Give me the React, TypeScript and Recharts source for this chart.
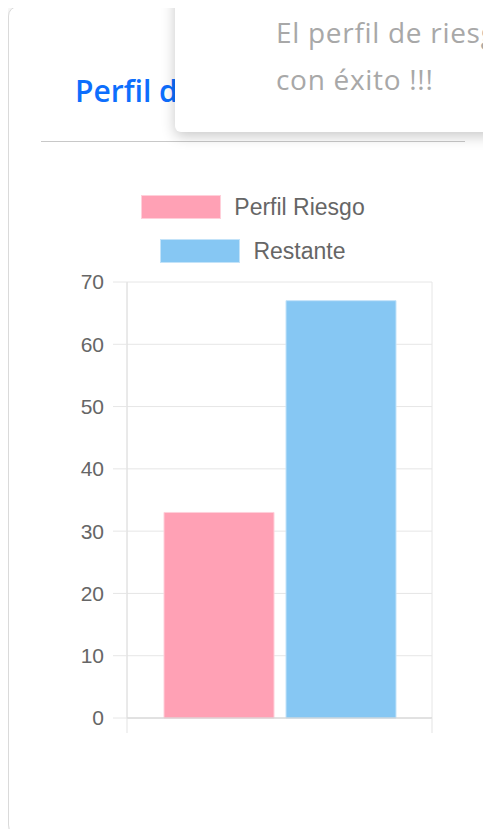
import { BarChart, Bar, XAxis, YAxis, CartesianGrid, Legend } from "recharts";

const categories = [""];
const perfilRiesgo = [33];
const restante = [67];
const yTicks = [0, 10, 20, 30, 40, 50, 60, 70];

const seriesNames = { riesgo: "Perfil Riesgo", restante: "Restante" };

const PINK = "#ffa1b5";
const PINK_BORDER = "#ffd0da";
const BLUE = "#86c7f3";
const BLUE_BORDER = "#c3e3f9";

const CHART_W = 360;
const CHART_H = 558;
const Y_AXIS_W = 53;
const MARGIN = { top: 0, right: 2, left: 0, bottom: 4 };
const PLOT_W = CHART_W - Y_AXIS_W - MARGIN.left - MARGIN.right;

const chartData = categories.map((name, i) => ({
  name,
  riesgo: perfilRiesgo[i],
  restante: restante[i],
}));

const legendItems = [
  { label: seriesNames.riesgo, fill: PINK, border: PINK_BORDER },
  { label: seriesNames.restante, fill: BLUE, border: BLUE_BORDER },
];

function StackedLegend() {
  return (
    <div style={{ height: 102, paddingTop: 15, boxSizing: "border-box" }}>
      {legendItems.map((it) => (
        <div
          key={it.label}
          style={{
            display: "flex",
            justifyContent: "center",
            alignItems: "center",
            height: 24,
            marginBottom: 20,
          }}
        >
          <span
            style={{
              display: "inline-block",
              width: 80,
              height: 24,
              boxSizing: "border-box",
              background: it.fill,
              border: `1px solid ${it.border}`,
              marginRight: 13,
            }}
          />
          <span
            style={{
              fontSize: 23,
              lineHeight: "24px",
              color: "#666",
              fontFamily: "'Liberation Sans', Arial, sans-serif",
            }}
          >
            {it.label}
          </span>
        </div>
      ))}
    </div>
  );
}

// short grid extensions below the x axis at the category edges
function EdgeTick(props: any) {
  const { x, y } = props;
  return (
    <g stroke="#e3e3e3" strokeWidth={1}>
      <line x1={x - PLOT_W / 2} x2={x - PLOT_W / 2} y1={y} y2={y + 15} />
      <line x1={x + PLOT_W / 2} x2={x + PLOT_W / 2} y1={y} y2={y + 15} />
    </g>
  );
}

export default function App() {
  return (
    <div
      style={{
        position: "relative",
        width: 491,
        height: 837,
        margin: -8,
        overflow: "hidden",
        background: "#fff",
        fontFamily: "'Open Sans', sans-serif",
      }}
    >
      <div
        style={{
          position: "absolute",
          left: 8,
          top: 6,
          width: 540,
          height: 829,
          boxSizing: "border-box",
          border: "1px solid #dadada",
          borderRadius: 10,
          boxShadow: "0 0 8px rgba(0,0,0,0.12)",
          background: "#fff",
        }}
      />
      <div
        style={{
          position: "absolute",
          left: 75,
          top: 76,
          fontSize: 30,
          lineHeight: "30px",
          fontWeight: 600,
          color: "#0d6efd",
          whiteSpace: "nowrap",
        }}
      >
        Perfil de Riesgo
      </div>
      <div style={{ position: "absolute", left: 41, top: 141, width: 424, height: 1, background: "#c8c8c8" }} />

      <div style={{ position: "absolute", left: 74, top: 180 }}>
        <BarChart
          width={CHART_W}
          height={CHART_H}
          data={chartData}
          margin={MARGIN}
          barSize={110}
          barGap={12}
        >
          <Legend verticalAlign="top" align="center" content={<StackedLegend />} />
          <CartesianGrid
            stroke="#e6e6e6"
            verticalCoordinatesGenerator={({ offset }: any) => [offset.left, offset.left + offset.width]}
          />
          <XAxis
            dataKey="name"
            axisLine={{ stroke: "#d0d0d0" }}
            tickLine={false}
            tickSize={0}
            tickMargin={0}
            height={16}
            tick={<EdgeTick />}
          />
          <YAxis
            domain={[0, 70]}
            ticks={yTicks}
            width={Y_AXIS_W}
            tickSize={14}
            tickMargin={9}
            axisLine={{ stroke: "#e0e0e0" }}
            tickLine={{ stroke: "#e6e6e6" }}
            tick={{ fontSize: 21, fill: "#666", fontFamily: "'Liberation Sans', Arial, sans-serif" }}
          />
          <Bar
            dataKey="riesgo"
            name={seriesNames.riesgo}
            fill={PINK}
            stroke={PINK_BORDER}
            strokeWidth={1}
            isAnimationActive={false}
          />
          <Bar
            dataKey="restante"
            name={seriesNames.restante}
            fill={BLUE}
            stroke={BLUE_BORDER}
            strokeWidth={1}
            isAnimationActive={false}
          />
        </BarChart>
      </div>

      <div
        style={{
          position: "absolute",
          left: 175,
          top: -20,
          width: 360,
          height: 152,
          background: "#fff",
          borderRadius: 6,
          boxShadow: "0 4px 14px rgba(0,0,0,0.22)",
        }}
      >
        <div
          style={{
            position: "absolute",
            left: 101,
            top: 29,
            fontSize: 28,
            letterSpacing: "0.7px",
            lineHeight: "47px",
            color: "#a8a8a8",
            whiteSpace: "nowrap",
          }}
        >
          <div>El perfil de riesgo se ha guardado</div>
          <div>con éxito !!!</div>
        </div>
      </div>
    </div>
  );
}
